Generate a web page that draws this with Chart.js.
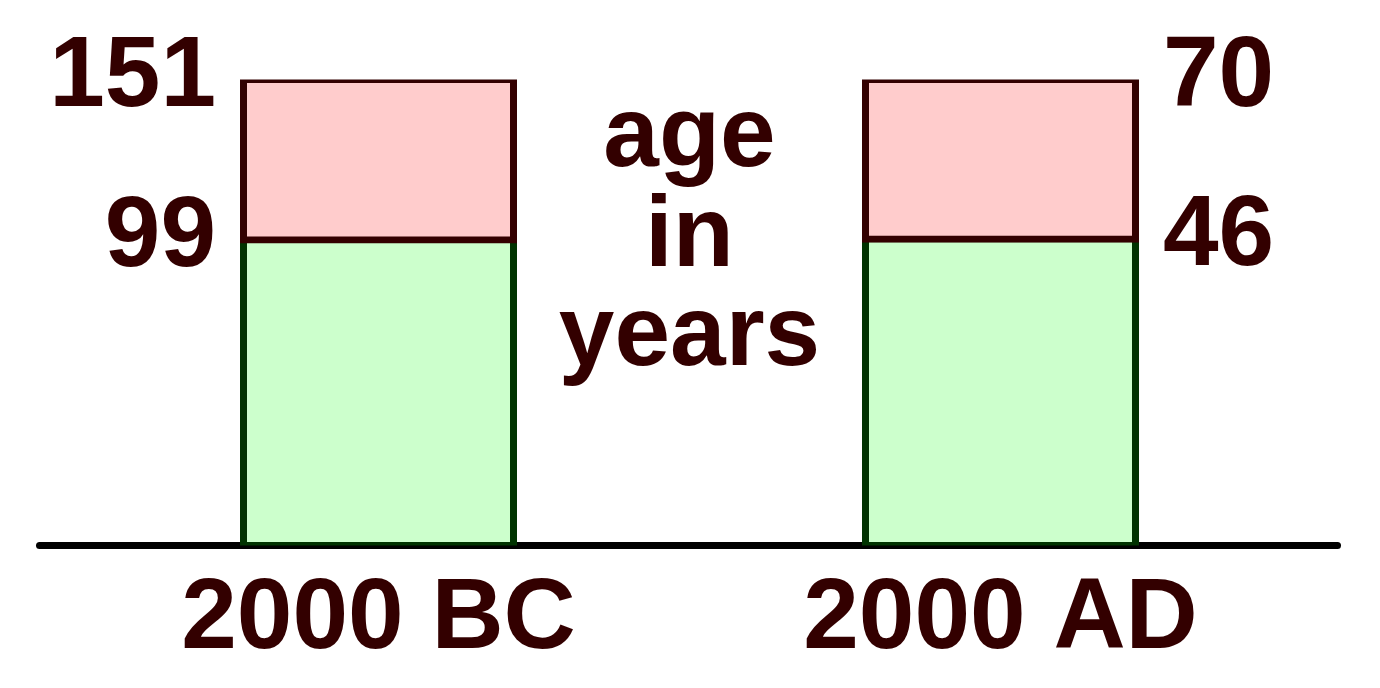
<!DOCTYPE html>
<html>
<head>
<meta charset="utf-8">
<script src="https://cdn.jsdelivr.net/npm/chart.js@4"></script>
<style>
  html, body { margin: 0; padding: 0; background: #fff; }
  #wrap { width: 1380px; height: 688px; position: relative; }
</style>
</head>
<body>
<div id="wrap"><canvas id="myChart"></canvas></div>
<script>
const categories = ['2000 BC', '2000 AD'];
const lowerAge = [99, 46];
const upperAge = [151, 70];
const centreWords = ['age', 'in', 'years'];

const textColor = '#330000';
const bigFont = 'bold 100px "Liberation Sans", Arial, sans-serif';

function onlyAt(i, value) {
    return categories.map((_, j) => (j === i ? value : null));
}

const pinkSets = categories.map((c, i) => ({
    label: c + ' upper',
    data: onlyAt(i, [lowerAge[i], upperAge[i]]),
    yAxisID: 'y' + i,
    backgroundColor: '#ffcccc',
    borderColor: '#330000',
    borderWidth: 7,
    borderSkipped: false,
    inflateAmount: 3.5
}));

const greenSets = categories.map((c, i) => ({
    label: c + ' lower',
    data: onlyAt(i, [0, lowerAge[i]]),
    yAxisID: 'y' + i,
    backgroundColor: '#ccffcc',
    borderColor: '#003300',
    borderWidth: { top: 0, left: 7, right: 7, bottom: 7 },
    borderSkipped: false,
    inflateAmount: 3.5
}));

// baseline under the bars, a bit wider than the plot area
const baseLine = {
    id: 'baseLine',
    beforeDatasetsDraw(chart) {
        const { ctx, chartArea } = chart;
        const y = chart.scales.y0.getPixelForValue(0);
        ctx.save();
        ctx.strokeStyle = '#000';
        ctx.lineWidth = 7;
        ctx.lineCap = 'round';
        ctx.beginPath();
        ctx.moveTo(chartArea.left - 28, y);
        ctx.lineTo(chartArea.right + 26, y);
        ctx.stroke();
        ctx.restore();
    }
};

// age numbers beside each bar and the words in the middle
const ageLabels = {
    id: 'ageLabels',
    afterDatasetsDraw(chart) {
        const { ctx, chartArea } = chart;
        ctx.save();
        ctx.font = bigFont;
        ctx.fillStyle = textColor;
        ctx.textBaseline = 'alphabetic';
        categories.forEach((c, i) => {
            const bar = chart.getDatasetMeta(pinkSets.length + i).data[i];
            const scale = chart.scales['y' + i];
            const half = bar.width / 2 + 27.5;
            const left = i === 0;
            ctx.textAlign = left ? 'right' : 'left';
            const x = left ? bar.x - half : bar.x + half;
            ctx.fillText(String(upperAge[i]), x, scale.getPixelForValue(upperAge[i]) + 26);
            ctx.fillText(String(lowerAge[i]), x, scale.getPixelForValue(lowerAge[i]) + 26);
        });
        ctx.textAlign = 'center';
        const cx = (chartArea.left + chartArea.right) / 2;
        centreWords.forEach((w, k) => {
            ctx.fillText(w, cx, chartArea.top + 86.5 + k * 99.5);
        });
        ctx.restore();
    }
};

const ctx = document.getElementById('myChart');
new Chart(ctx, {
    type: 'bar',
    data: {
        labels: categories,
        datasets: pinkSets.concat(greenSets)
    },
    options: {
        responsive: true,
        maintainAspectRatio: false,
        animation: false,
        devicePixelRatio: 1,
        layout: { padding: { top: 79.5, left: 67.5, right: 68.5, bottom: 0 } },
        datasets: { bar: { grouped: false, barThickness: 270 } },
        plugins: {
            legend: { display: false },
            tooltip: { enabled: false }
        },
        scales: {
            x: {
                grid: { display: false, drawTicks: false },
                border: { display: false },
                ticks: {
                    color: textColor,
                    padding: 15,
                    font: { family: '"Liberation Sans", Arial, sans-serif', size: 100, weight: 'bold' }
                },
                afterFit(scale) {
                    scale.height = 142.5;
                }
            },
            y0: { display: false, min: 0, max: upperAge[0] },
            y1: { display: false, min: 0, max: upperAge[1], position: 'right' }
        }
    },
    plugins: [baseLine, ageLabels]
});
</script>
</body>
</html>
